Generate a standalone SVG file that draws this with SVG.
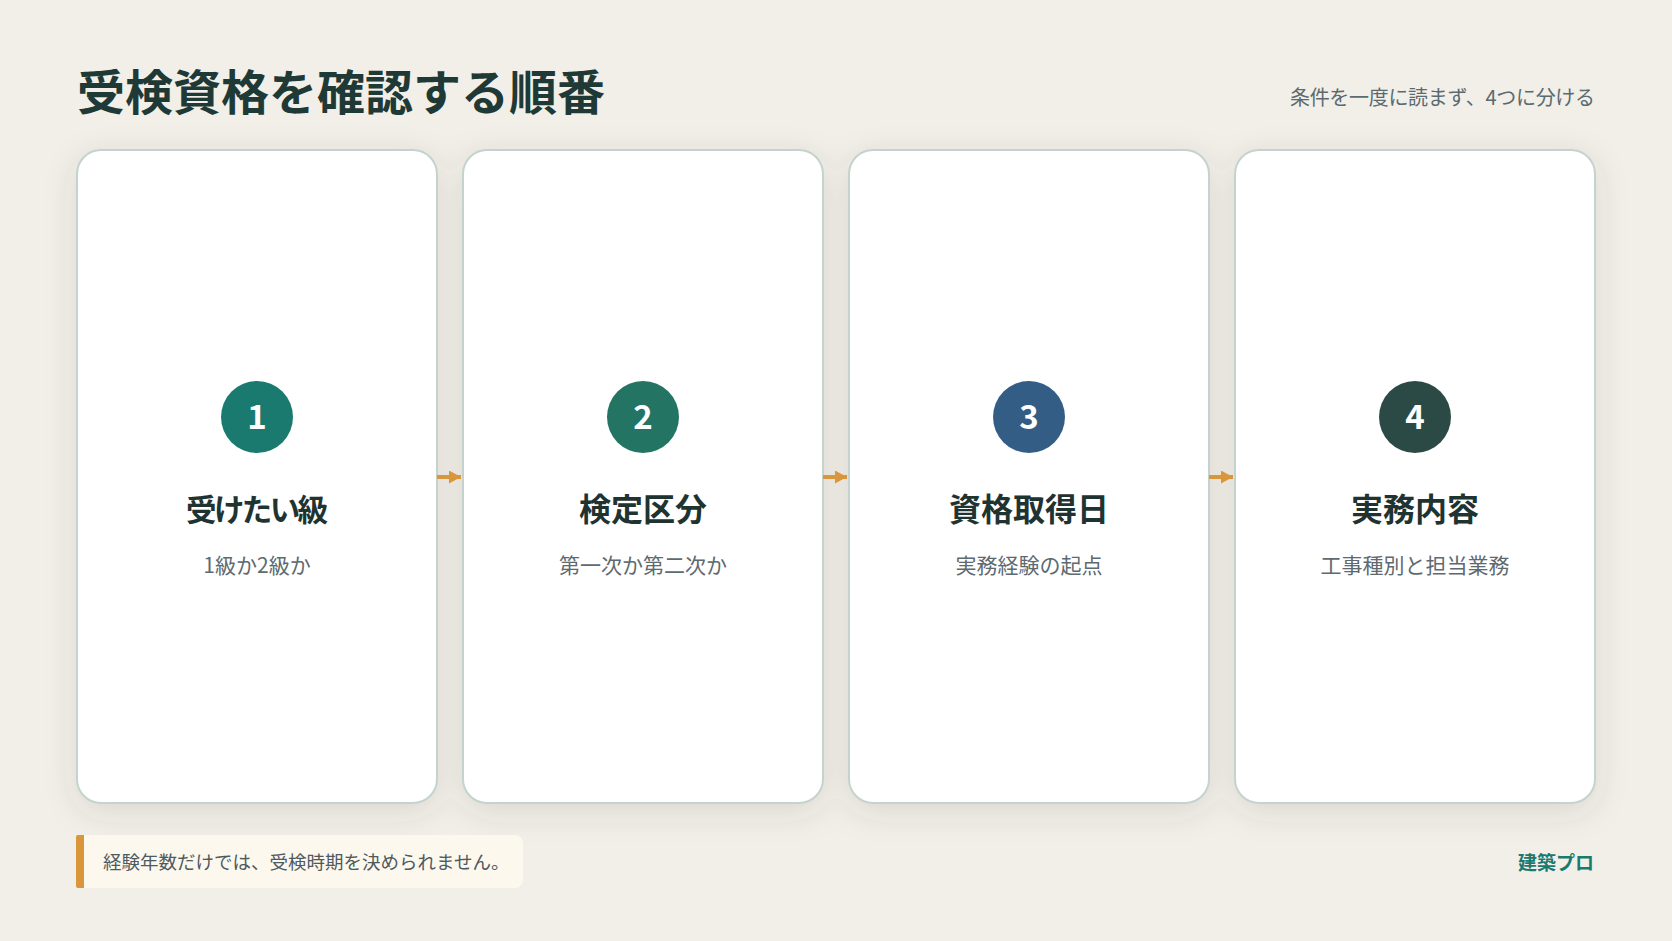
<svg xmlns="http://www.w3.org/2000/svg" width="1672" height="941" viewBox="0 0 1672 941">
  <defs>
    <filter id="shadow" x="-20%" y="-20%" width="140%" height="140%">
      <feDropShadow dx="0" dy="8" stdDeviation="16" flood-color="#3a4a40" flood-opacity="0.14"/>
    </filter>
    <marker id="arrowhead" viewBox="0 0 12 13" refX="12" refY="6.5" markerWidth="12" markerHeight="13" markerUnits="userSpaceOnUse" orient="auto">
      <path d="M0,0 L12,6.5 L0,13 Z" fill="#d9963a"/>
    </marker>
  </defs>
  <style>
    text { font-family: "Noto Sans CJK JP", "Noto Sans", sans-serif; }
    .card { fill: #ffffff; stroke: #c4d3ce; stroke-width: 2; }
    .num { fill: #ffffff; font-size: 33px; font-weight: 700; text-anchor: middle; }
    .ttl { fill: #1f3431; font-size: 32px; font-weight: 700; text-anchor: middle; }
    .sub { fill: #5d6a70; font-size: 21px; text-anchor: middle; }
    .conn { stroke: #d9963a; stroke-width: 4; fill: none; }
  </style>
  <rect x="0" y="0" width="1672" height="941" fill="#f2efe8"/>

  <g id="header">
    <text x="77" y="110" font-size="48" font-weight="700" fill="#1f3a36">受検資格を確認する順番</text>
    <text x="1595" y="105" font-size="20" fill="#5a6a70" text-anchor="end" textLength="305" lengthAdjust="spacing">条件を一度に読まず、4つに分ける</text>
  </g>

  <g id="cards-shadow" filter="url(#shadow)">
    <rect x="77" y="150" width="360" height="653" rx="24" fill="#ffffff"/>
    <rect x="463" y="150" width="360" height="653" rx="24" fill="#ffffff"/>
    <rect x="849" y="150" width="360" height="653" rx="24" fill="#ffffff"/>
    <rect x="1235" y="150" width="360" height="653" rx="24" fill="#ffffff"/>
  </g>

  <g id="step1">
    <rect class="card" x="77" y="150" width="360" height="653" rx="24"/>
    <circle cx="257" cy="417" r="36" fill="#1a7a70"/>
    <text class="num" x="257" y="429">1</text>
    <text class="ttl" x="257" y="521" font-size="30.5" style="font-size:30.5px" textLength="142" lengthAdjust="spacing">受けたい級</text>
    <text class="sub" x="257" y="573">1級か2級か</text>
  </g>

  <g id="step2">
    <rect class="card" x="463" y="150" width="360" height="653" rx="24"/>
    <circle cx="643" cy="417" r="36" fill="#237463"/>
    <text class="num" x="643" y="429">2</text>
    <text class="ttl" x="643" y="521">検定区分</text>
    <text class="sub" x="643" y="573">第一次か第二次か</text>
  </g>

  <g id="step3">
    <rect class="card" x="849" y="150" width="360" height="653" rx="24"/>
    <circle cx="1029" cy="417" r="36" fill="#335d85"/>
    <text class="num" x="1029" y="429">3</text>
    <text class="ttl" x="1029" y="521">資格取得日</text>
    <text class="sub" x="1029" y="573">実務経験の起点</text>
  </g>

  <g id="step4">
    <rect class="card" x="1235" y="150" width="360" height="653" rx="24"/>
    <circle cx="1415" cy="417" r="36" fill="#2b4a45"/>
    <text class="num" x="1415" y="429">4</text>
    <text class="ttl" x="1415" y="521">実務内容</text>
    <text class="sub" x="1415" y="573">工事種別と担当業務</text>
  </g>

  <g id="connectors">
    <line class="conn" x1="437" y1="477" x2="461" y2="477" marker-end="url(#arrowhead)"/>
    <line class="conn" x1="823" y1="477" x2="847" y2="477" marker-end="url(#arrowhead)"/>
    <line class="conn" x1="1209" y1="477" x2="1233" y2="477" marker-end="url(#arrowhead)"/>
  </g>

  <g id="note">
    <rect x="76" y="835" width="447" height="53" rx="8" fill="#fdf8ee"/>
    <path d="M84,835 L81,835 Q76,835 76,843 L76,880 Q76,888 81,888 L84,888 Z" fill="#d9963a"/>
    <rect x="76" y="835" width="5" height="53" fill="#d9963a" rx="2"/>
    <text x="103" y="869" font-size="18.5" fill="#4d5a60">経験年数だけでは、受検時期を決められません。</text>
  </g>

  <g id="brand">
    <text x="1594" y="870" font-size="19" font-weight="700" fill="#1a7a70" text-anchor="end">建築プロ</text>
  </g>
</svg>
